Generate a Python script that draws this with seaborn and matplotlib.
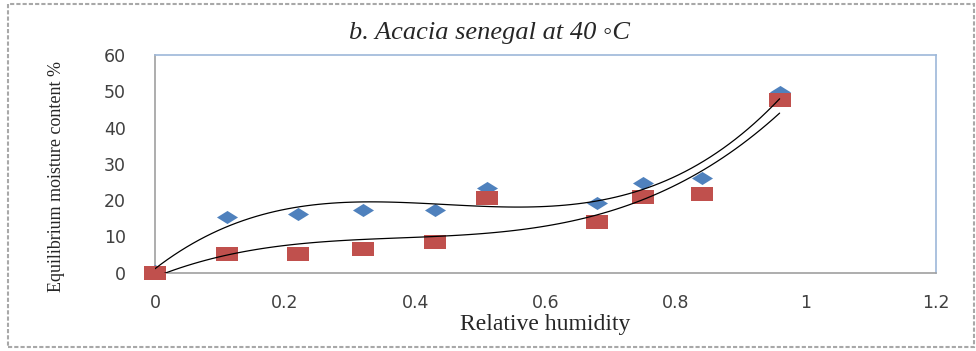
import numpy as np
import pandas as pd
import matplotlib
matplotlib.use("Agg")
import matplotlib.pyplot as plt
import seaborn as sns
from matplotlib.path import Path
from matplotlib.patches import Rectangle

# ---- data ----
rh_blue = [0.0, 0.11, 0.22, 0.32, 0.43, 0.51, 0.68, 0.75, 0.84, 0.96]
emc_blue = [0.5, 15.3, 16.3, 17.4, 17.2, 23.4, 19.2, 24.7, 26.0, 49.8]
rh_red = [0.0, 0.11, 0.22, 0.32, 0.43, 0.51, 0.68, 0.75, 0.84, 0.96]
emc_red = [0.0, 5.1, 5.1, 6.5, 8.6, 20.6, 13.9, 20.9, 21.6, 47.5]
x_ticks = [0, 0.2, 0.4, 0.6, 0.8, 1, 1.2]
x_tick_labels = ["0", "0.2", "0.4", "0.6", "0.8", "1", "1.2"]
y_ticks = [0, 10, 20, 30, 40, 50, 60]

sns.set_style("white")
plt.rcParams['font.family'] = ['DejaVu Sans']

fig = plt.figure(figsize=(9.76, 3.51), dpi=100)
ax = fig.add_axes([0.1588, 0.223, 0.8, 0.62])

diamond = Path([(-1, 0), (0, 0.62), (1, 0), (0, -0.62), (-1, 0)],
               [Path.MOVETO, Path.LINETO, Path.LINETO, Path.LINETO, Path.CLOSEPOLY])
rect = Path([(-1, -0.6), (1, -0.6), (1, 0.6), (-1, 0.6), (-1, -0.6)],
            [Path.MOVETO, Path.LINETO, Path.LINETO, Path.LINETO, Path.CLOSEPOLY])

blue = "#4F81BD"
red = "#C0504D"

df_b = pd.DataFrame({"rh": rh_blue, "emc": emc_blue})
df_r = pd.DataFrame({"rh": rh_red, "emc": emc_red})

sns.scatterplot(data=df_b, x="rh", y="emc", ax=ax, marker=diamond, s=230,
                color=blue, edgecolor=blue, linewidth=0, zorder=3, clip_on=False)
sns.scatterplot(data=df_r, x="rh", y="emc", ax=ax, marker=rect, s=250,
                color=red, edgecolor=red, linewidth=0, zorder=3, clip_on=False)

sns.regplot(data=df_b, x="rh", y="emc", ax=ax, order=3, ci=None, scatter=False,
            line_kws=dict(color="black", lw=0.9, zorder=4))
sns.regplot(data=df_r, x="rh", y="emc", ax=ax, order=3, ci=None, scatter=False,
            line_kws=dict(color="black", lw=0.9, zorder=4))

ax.set_xlim(0, 1.2)
ax.set_ylim(0, 60)
ax.set_xticks(x_ticks)
ax.set_xticklabels(x_tick_labels)
ax.set_yticks(y_ticks)
ax.tick_params(axis="both", direction="out", width=1, color="#a0a0a0",
               labelsize=12.5, labelcolor="#404040")
ax.tick_params(axis="y", length=7, pad=14)
ax.tick_params(axis="x", length=5, pad=10)

for side in ["left", "bottom"]:
    ax.spines[side].set_color("#a0a0a0")
    ax.spines[side].set_linewidth(1.2)
for side in ["top", "right"]:
    ax.spines[side].set_color("#9db8d9")
    ax.spines[side].set_linewidth(1.2)

ax.set_xlabel("Relative humidity", family=["Liberation Serif", "DejaVu Serif"],
              fontsize=17, labelpad=2)
ax.set_ylabel("Equilibrium moisture content %", family=["Liberation Serif", "DejaVu Serif"],
              fontsize=13)
ax.yaxis.set_label_coords(-0.115, 0.44)
fig.text(0.502, 0.905, "b. Acacia senegal at 40 \u25e6C", ha="center", va="center",
         family=["Liberation Serif", "DejaVu Serif"], style="italic", fontsize=19)

fig.patches.append(Rectangle((0.008, 0.01), 0.99, 0.978, transform=fig.transFigure,
                             fill=False, edgecolor="#a8a8a8", lw=1.5, linestyle=(0, (2, 1))))

fig.savefig("out.png", dpi=100)
